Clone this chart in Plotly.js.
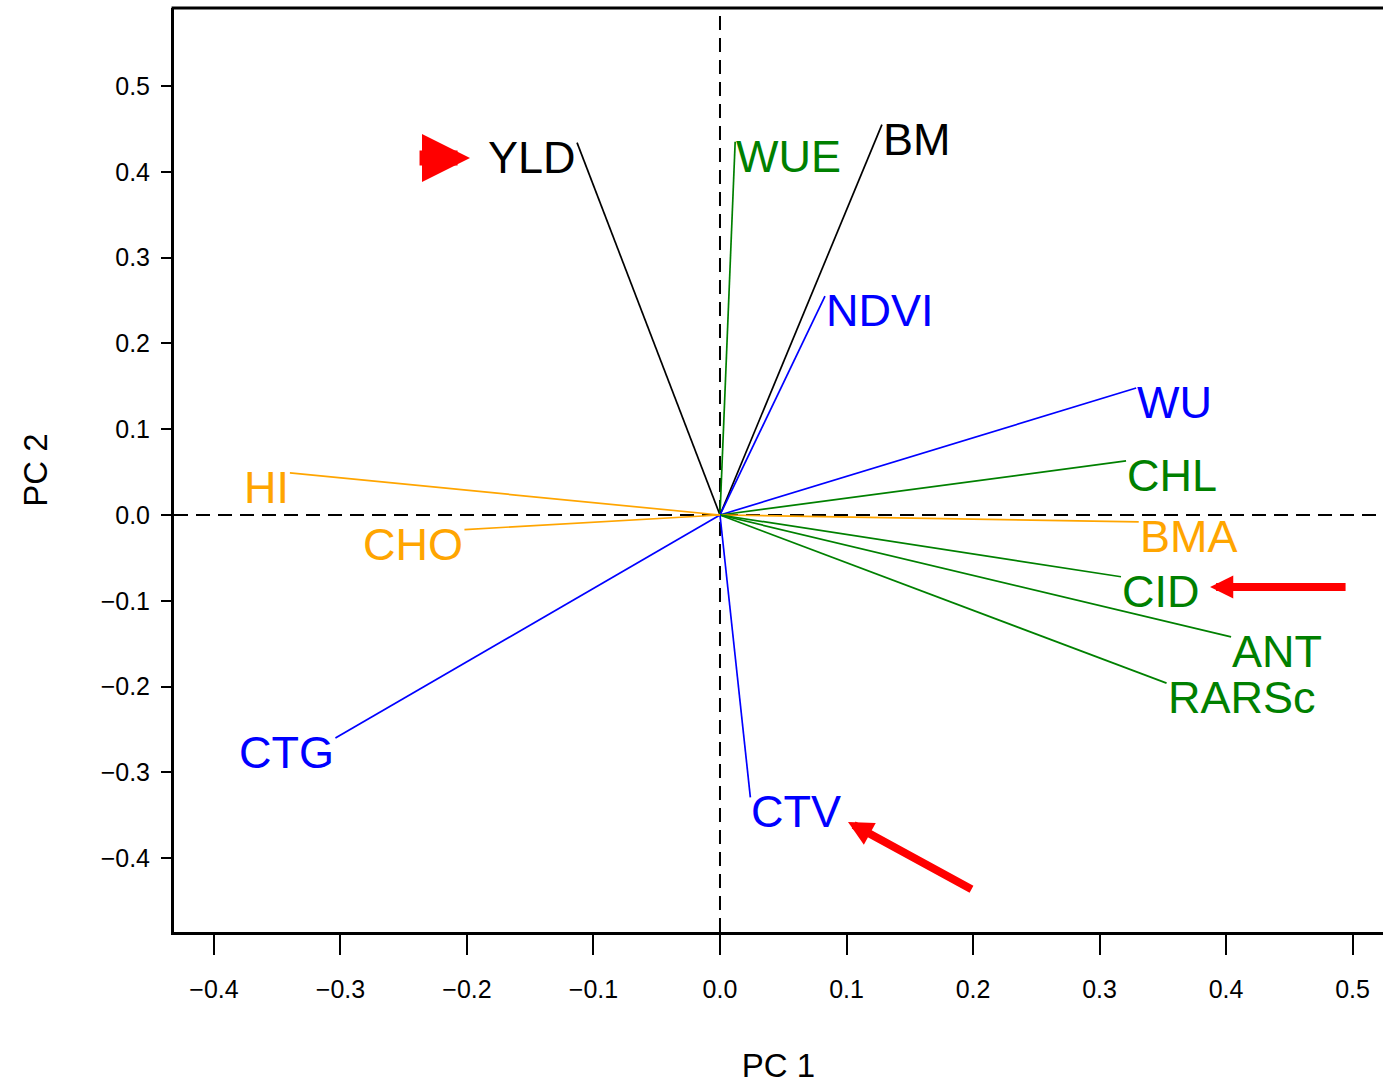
<!DOCTYPE html>
<html><head><meta charset="utf-8">
<script src="https://cdn.plot.ly/plotly-3.0.1.min.js"></script>
<style>html,body{margin:0;padding:0;background:#fff;overflow:hidden}</style>
</head><body><div id="chart" style="width:1383px;height:1085px"></div>
<script>
// ---- data ----
const variables = ['YLD','WUE','BM','NDVI','WU','CHL','BMA','CID','ANT','RARSc','CTV','CTG','HI','CHO'];
const pc1 = [-0.113, 0.012, 0.128, 0.083, 0.329, 0.321, 0.331, 0.317, 0.404, 0.353, 0.024, -0.304, -0.340, -0.202];
const pc2 = [0.434, 0.435, 0.455, 0.255, 0.148, 0.063, -0.008, -0.072, -0.142, -0.196, -0.329, -0.260, 0.049, -0.017];
const groups = ['g1','g2','g1','g3','g3','g2','g4','g2','g2','g2','g3','g3','g4','g4'];
const tickValues = [-0.4,-0.3,-0.2,-0.1,0.0,0.1,0.2,0.3,0.4,0.5];
// highlight arrows: tips and tails in data units
const arrowTipX = [-0.1976, 0.3874, 0.1012];
const arrowTipY = [0.416, -0.0839, -0.3578];
const arrowTailX = [-0.2387, 0.4957, 0.2000];
const arrowTailY = [0.416, -0.0839, -0.4371];

// ---- styles ----
const groupColor = {g1:'#000000', g2:'#008000', g3:'#0000ff', g4:'#ffa500'};
const arrowStyle = [
  {w:15, s:0.64},
  {w:8, s:0.58},
  {w:8, s:0.62}
];
const xr = [-0.4316, 0.5241];
const yr = [-0.486, 0.5909];

const traces = variables.map((v,i)=>({
  type:'scatter', mode:'lines',
  x:[0, pc1[i]], y:[0, pc2[i]],
  line:{color:groupColor[groups[i]], width:1.7},
  hoverinfo:'skip', showlegend:false
}));

const annotations = variables.map((v,i)=>({
  x:pc1[i], y:pc2[i], xref:'x', yref:'y',
  text:v, showarrow:false,
  xanchor: pc1[i] < 0 ? 'right' : 'left',
  yanchor:'top', yshift:12, borderpad:0,
  font:{family:'Liberation Sans, Arial, sans-serif', size:45, color:groupColor[groups[i]]}
}));

arrowTipX.forEach((ax,i)=>{
  annotations.push({
    x:arrowTipX[i], y:arrowTipY[i], xref:'x', yref:'y',
    ax:arrowTailX[i], ay:arrowTailY[i], axref:'x', ayref:'y',
    text:'', showarrow:true, arrowhead:2,
    arrowwidth:arrowStyle[i].w, arrowsize:arrowStyle[i].s,
    arrowcolor:'#ff0000', standoff:0
  });
});

const shapes = [
  {type:'line', xref:'x', yref:'paper', x0:0, x1:0, y0:0, y1:1,
   line:{color:'#000', width:2, dash:'14px,8px'}, layer:'below'},
  {type:'line', xref:'paper', yref:'y', x0:0, x1:1, y0:0, y1:0,
   line:{color:'#000', width:2, dash:'14px,8px'}, layer:'below'},
  {type:'line', xref:'paper', yref:'paper', x0:-0.002, x1:1, y0:1, y1:1,
   line:{color:'#000', width:3}}
];

const tickFont = {family:'Liberation Sans, Arial, sans-serif', size:25, color:'#000'};
const titleFont = {family:'Liberation Sans, Arial, sans-serif', size:33, color:'#000'};

const layout = {
  width:1383, height:1085,
  margin:{l:174, r:0, t:8, b:153},
  paper_bgcolor:'#fff', plot_bgcolor:'#fff',
  showlegend:false,
  xaxis:{
    range:xr, tickvals:tickValues, tickformat:'.1f',
    showgrid:false, zeroline:false,
    showline:true, linecolor:'#000', linewidth:3, mirror:false,
    ticks:'outside', ticklen:20, tickwidth:2, tickcolor:'#000',
    tickfont:tickFont, ticklabelstandoff:13,
    title:{text:'PC 1', font:titleFont, standoff:52}
  },
  yaxis:{
    range:yr, tickvals:tickValues, tickformat:'.1f',
    showgrid:false, zeroline:false,
    showline:true, linecolor:'#000', linewidth:3, mirror:false,
    ticks:'outside', ticklen:10, tickwidth:2, tickcolor:'#000',
    tickfont:tickFont, ticklabelstandoff:6,
    title:{text:'PC 2', font:titleFont, standoff:44}
  },
  shapes:shapes,
  annotations:annotations
};

Plotly.newPlot('chart', traces, layout, {displayModeBar:false, staticPlot:true});
</script>
</body></html>
